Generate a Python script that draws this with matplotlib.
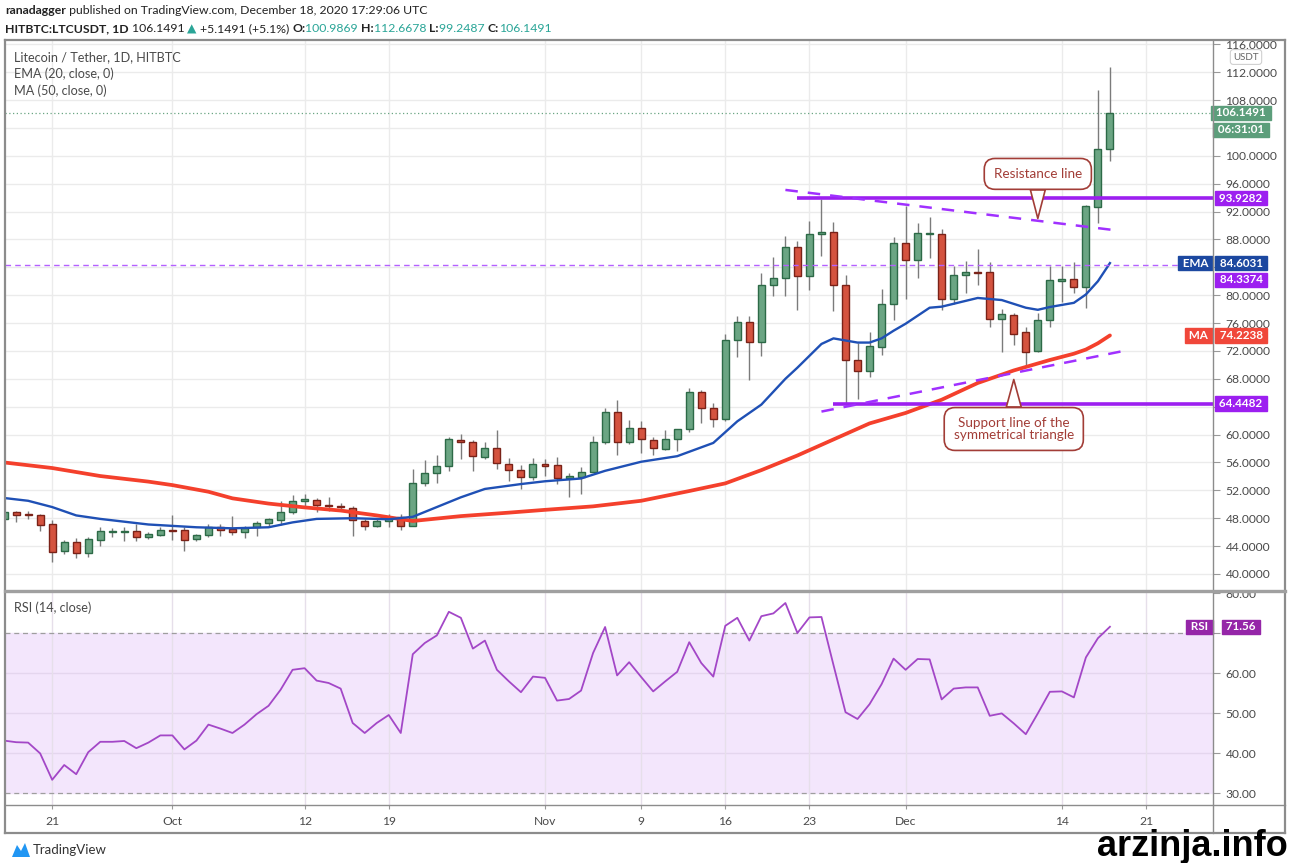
import matplotlib
matplotlib.use("Agg")
import matplotlib.pyplot as plt
import matplotlib.dates as mdates
from matplotlib.transforms import blended_transform_factory
from matplotlib.lines import Line2D
from matplotlib.patches import Rectangle, Polygon
import numpy as np
import pandas as pd

plt.rcParams['font.family'] = ['Lato', 'DejaVu Sans']

W, H = 1289, 863

# daily candles, Sep 17 .. Dec 18 2020
dates = pd.date_range("2020-09-17", "2020-12-18", freq="D")
opens = [47.9, 48.95, 48.6, 48.45, 47.1, 43.25, 44.55, 42.95, 44.9, 46.05, 46.05, 46.1, 45.3, 45.65,
         46.3, 46.3, 44.95, 45.65, 46.7, 46.45, 46.05, 46.7, 47.25, 47.8, 48.85, 50.5, 50.6, 49.9, 49.75, 49.45,
         47.65, 46.95, 47.6, 48.15, 46.95, 52.98, 54.43, 55.45, 59.2, 58.95, 56.85, 58.05, 55.8, 54.9, 53.95,
         55.75, 55.6, 53.75, 53.95, 54.7, 59.0, 63.3, 58.9, 61.0, 59.25, 57.95, 59.3, 60.75, 66.05, 63.85,
         62.3, 73.6, 76.15, 73.3, 81.4, 82.4, 86.9, 82.7, 88.8, 89.1, 81.4, 70.75, 69.1, 72.5, 78.75,
         87.5, 85.0, 88.8, 88.8, 79.5, 82.95, 83.35, 83.3, 76.6, 77.15, 74.7, 71.95, 76.5, 82.1, 82.35,
         81.15, 92.65, 100.9869]
highs = [49.1, 49.1, 49.1, 48.6, 47.75, 44.9, 45.2, 45.25, 46.7, 46.6, 46.7, 47.2, 46.0, 46.7,
         48.5, 46.8, 45.75, 47.2, 47.2, 48.3, 46.9, 47.55, 48.1, 50.5, 51.35, 51.5, 50.9, 51.1, 50.15, 49.7,
         47.9, 47.9, 48.6, 48.6, 55.05, 56.4, 57.1, 59.65, 60.15, 59.2, 59.0, 60.6, 56.6, 55.6, 56.6,
         56.5, 56.75, 54.5, 55.3, 59.8, 63.85, 64.95, 62.05, 61.95, 59.65, 60.6, 60.85, 66.65, 66.4, 64.5,
         74.5, 76.95, 77.05, 83.2, 85.45, 88.45, 87.75, 90.7, 93.8, 90.5, 82.95, 73.15, 74.7, 80.95, 88.3,
         92.85, 90.35, 91.2, 89.5, 84.15, 84.9, 86.6, 84.7, 78.0, 77.45, 75.5, 77.45, 84.15, 84.15, 84.8,
         93.0, 109.5, 112.6678]
lows = [47.7, 47.5, 47.9, 46.2, 41.7, 42.9, 42.25, 42.5, 44.0, 45.25, 44.7, 44.8, 45.0, 45.4,
        44.9, 43.25, 44.8, 45.35, 45.5, 45.65, 45.1, 45.5, 46.7, 47.0, 48.6, 49.4, 48.95, 49.1, 49.2, 45.5,
        46.3, 46.7, 46.7, 46.3, 46.9, 52.65, 53.1, 54.8, 56.5, 54.8, 56.5, 55.05, 53.4, 52.2, 53.5,
        54.1, 52.9, 51.1, 51.45, 54.6, 58.7, 57.1, 58.6, 57.4, 57.0, 57.8, 57.7, 60.4, 61.7, 61.1,
        61.9, 71.2, 67.9, 71.3, 79.85, 79.9, 77.85, 80.8, 85.6, 77.7, 64.3, 65.1, 68.2, 71.4, 76.5,
        79.5, 82.4, 85.35, 77.85, 78.8, 80.3, 81.5, 75.45, 71.85, 72.8, 69.8, 71.85, 75.45, 79.0, 80.3,
        78.2, 90.4, 99.2487]
closes = [48.85, 48.5, 48.5, 47.0, 43.1, 44.55, 42.95, 45.0, 46.1, 46.15, 46.1, 45.25, 45.7, 46.3,
          46.2, 44.9, 45.6, 46.7, 46.35, 46.05, 46.55, 47.25, 47.9, 48.95, 50.5, 50.7, 49.95, 49.7, 49.55, 47.7,
          46.95, 47.55, 48.2, 46.95, 53.05, 54.43, 55.45, 59.3, 58.95, 56.9, 58.05, 55.9, 54.9, 53.95, 55.75,
          55.55, 53.75, 54.0, 54.7, 59.0, 63.3, 58.9, 61.0, 59.3, 58.05, 59.3, 60.75, 66.05, 63.85, 62.3,
          73.6, 76.15, 73.3, 81.4, 82.4, 86.9, 82.7, 88.8, 89.1, 81.4, 70.75, 69.1, 72.7, 78.75, 87.5,
          85.0, 88.95, 88.9, 79.5, 82.95, 83.3, 83.25, 76.6, 77.3, 74.5, 71.85, 76.5, 82.15, 82.35, 81.15,
          92.75, 100.9869, 106.1491]

rsi = [43.1, 42.7, 42.6, 39.9, 33.3, 37.0, 34.7, 40.2, 42.8, 42.8, 43.0, 41.2, 42.6, 44.4,
       44.4, 40.9, 43.1, 47.1, 46.1, 45.0, 47.1, 49.7, 51.8, 55.8, 60.8, 61.2, 58.1, 57.5, 56.1, 47.5,
       45.0, 47.5, 49.5, 45.0, 64.7, 67.5, 69.4, 75.3, 73.8, 66.1, 68.1, 60.8, 57.9, 55.2, 59.1,
       58.8, 53.1, 53.5, 55.6, 65.0, 71.5, 59.4, 62.7, 59.0, 55.4, 57.9, 60.3, 67.7, 62.5, 59.1,
       71.8, 73.8, 68.1, 74.2, 74.9, 77.5, 70.0, 73.9, 74.0, 62.0, 50.2, 48.5, 52.2, 57.2, 63.6,
       60.8, 63.5, 63.4, 53.4, 56.1, 56.4, 56.4, 49.3, 49.9, 47.4, 44.7, 49.9, 55.3, 55.4, 53.9,
       63.9, 68.7, 71.56]

ema_dates = ["2020-09-17", "2020-09-19", "2020-09-21", "2020-09-23", "2020-09-25", "2020-09-29",
             "2020-10-03", "2020-10-06", "2020-10-09", "2020-10-11", "2020-10-13", "2020-10-16",
             "2020-10-19", "2020-10-21", "2020-10-23", "2020-10-25", "2020-10-27", "2020-10-30",
             "2020-11-01", "2020-11-04", "2020-11-06", "2020-11-09", "2020-11-12", "2020-11-15",
             "2020-11-17", "2020-11-19", "2020-11-21", "2020-11-22", "2020-11-24", "2020-11-25",
             "2020-11-27", "2020-11-28", "2020-11-29", "2020-11-30", "2020-12-01", "2020-12-03",
             "2020-12-04", "2020-12-07", "2020-12-09", "2020-12-11", "2020-12-12", "2020-12-13",
             "2020-12-15", "2020-12-16", "2020-12-17", "2020-12-18"]
ema_vals = [50.9, 50.5, 49.6, 48.4, 47.9, 47.1, 46.7, 46.55, 46.7, 47.4, 47.9, 48.0,
            47.85, 48.2, 49.6, 51.0, 52.2, 52.9, 53.3, 53.7, 54.8, 56.1, 56.9, 58.8,
            61.9, 64.3, 68.0, 69.6, 73.0, 73.8, 73.2, 73.2, 73.8, 74.9, 75.9, 78.2,
            78.35, 79.6, 79.3, 78.2, 77.9, 78.3, 78.9, 80.1, 82.0, 84.6031]

ma_dates = ["2020-09-17", "2020-09-21", "2020-09-25", "2020-09-29", "2020-10-01", "2020-10-04",
            "2020-10-06", "2020-10-09", "2020-10-12", "2020-10-15", "2020-10-18", "2020-10-21",
            "2020-10-25", "2020-10-29", "2020-11-01", "2020-11-05", "2020-11-09", "2020-11-13",
            "2020-11-16", "2020-11-19", "2020-11-22", "2020-11-25", "2020-11-28", "2020-12-01",
            "2020-12-04", "2020-12-07", "2020-12-10", "2020-12-13", "2020-12-15", "2020-12-16",
            "2020-12-17", "2020-12-18"]
ma_vals = [56.0, 55.2, 54.05, 53.25, 52.75, 51.8, 50.85, 50.1, 49.55, 49.1, 48.4, 47.6,
           48.3, 48.8, 49.2, 49.7, 50.5, 51.9, 53.0, 54.9, 57.0, 59.3, 61.6, 63.1,
           65.0, 67.4, 69.2, 70.7, 71.6, 72.2, 73.1, 74.2238]

# drawn levels
resistance = 93.9282
support = 64.4482
level_mid = 84.3374
upper_trend_dates = ["2020-11-21 00:00", "2020-12-18 18:00"]
upper_trend_vals = [95.1, 89.25]
lower_trend_dates = ["2020-11-24 00:00", "2020-12-19 14:00"]
lower_trend_vals = [63.3, 72.15]

tick_dates = ["2020-09-21", "2020-10-01", "2020-10-12", "2020-10-19", "2020-11-01", "2020-11-09",
              "2020-11-16", "2020-11-23", "2020-12-01", "2020-12-14", "2020-12-21"]
tick_labels = ["21", "Oct", "12", "19", "Nov", "9", "16", "23", "Dec", "14", "21"]

GREEN, GREEN_E = '#6ba583', '#2d6a47'
RED, RED_E = '#d4533f', '#7a2218'
PURPLE = '#9c1ff0'
GRAY_T = '#4a4a4a'


def fx(px):
    return px / W


def fy(py):
    return 1 - py / H


def dn(s):
    return mdates.date2num(pd.Timestamp(s))


def dns(lst):
    return np.array([dn(s) for s in lst])


fig = plt.figure(figsize=(W / 100, H / 100), dpi=100)
ax = fig.add_axes([fx(5), fy(590), (1213 - 5) / W, (590 - 40) / H])
ar = fig.add_axes([fx(5), fy(805), (1213 - 5) / W, (805 - 593) / H], sharex=ax)

x0 = dn("2020-11-01") - 540 / 12.02
ax.set_xlim(x0, x0 + 1208 / 12.02)
ax.set_ylim(37.70, 116.61)
ar.set_ylim(27.0, 80.0)

xd = mdates.date2num(dates)
o = np.array(opens)
c = np.array(closes)
up = c >= o
lo = np.minimum(o, c)
hgt = np.maximum(np.abs(c - o), 0.12)

ax.vlines(xd, lows, highs, color='#7b7b7b', lw=1, zorder=2)
ax.bar(xd[up], hgt[up], bottom=lo[up], width=0.58, color=GREEN, edgecolor=GREEN_E, lw=1, zorder=3)
ax.bar(xd[~up], hgt[~up], bottom=lo[~up], width=0.58, color=RED, edgecolor=RED_E, lw=1, zorder=3)

ax.plot(dns(ma_dates), ma_vals, color='#f4402c', lw=2.7, zorder=4, solid_capstyle='round')
ax.plot(dns(ema_dates), ema_vals, color='#1f50b5', lw=1.7, zorder=5)

xr = ax.get_xlim()[1]
ax.hlines(resistance, dn("2020-11-22"), xr, color=PURPLE, lw=2.6, zorder=6)
ax.hlines(support, dn("2020-11-25"), xr, color=PURPLE, lw=2.6, zorder=6)
ax.axhline(level_mid, color='#b460ff', lw=1, dashes=(4, 3), zorder=6)
ax.plot(dns(upper_trend_dates), upper_trend_vals, color='#a030ff', lw=1.8, dashes=(5, 4), zorder=6)
ax.plot(dns(lower_trend_dates), lower_trend_vals, color='#a030ff', lw=1.8, dashes=(5, 4), zorder=6)
ax.axhline(closes[-1], color='#6aa583', lw=0.9, ls=(0, (1, 2)), zorder=1)

# axes styling
for a in (ax, ar):
    for s in a.spines.values():
        s.set_visible(False)
    a.yaxis.tick_right()
    a.set_axisbelow(True)
    a.grid(True, color='#ebebeb', lw=1)

ar.set_xticks(dns(tick_dates))
ar.set_xticklabels(tick_labels)
ax.tick_params(axis='x', bottom=False, labelbottom=False)
ar.tick_params(axis='x', length=3, color='#9a9a9a', pad=5, labelsize=8.7, labelcolor=GRAY_T)

pt = np.arange(40, 117, 4)
ax.set_yticks(pt)
ax.set_yticklabels(['' if v in (64, 84, 104) else f'{v:.4f}' for v in pt])
ax.tick_params(axis='y', direction='out', length=5, width=0.8, color='#9a9a9a', pad=4,
               labelsize=8.7, labelcolor=GRAY_T)

rt = [30, 40, 50, 60, 70, 80]
ar.set_yticks(rt)
ar.set_yticklabels(['' if v == 70 else f'{v:.2f}' for v in rt])
ar.tick_params(axis='y', direction='out', length=5, width=0.8, color='#9a9a9a', pad=4,
               labelsize=8.7, labelcolor=GRAY_T)

# RSI pane
ar.axhspan(30, 70, color='#f3e6fc', zorder=0)
ar.grid(False)
for v in (40, 50, 60):
    ar.axhline(v, color='#e4d6ee', lw=1, zorder=0.5)
for t in ar.get_xticks():
    ar.axvline(t, color='#e6dfea', lw=1, zorder=0.5)
ar.axhline(70, color='#9e9e9e', lw=0.9, dashes=(4, 3))
ar.axhline(30, color='#9e9e9e', lw=0.9, dashes=(4, 3))
ar.plot(xd, rsi, color='#a347c7', lw=1.3, zorder=3)


def tag_value(axis, y, text, fc, dy=0):
    tr = blended_transform_factory(axis.transAxes, axis.transData)
    axis.annotate(' ' + text + ' ', xy=(1, y), xycoords=tr, xytext=(28, dy), textcoords='offset pixels',
                  ha='center', va='center', fontsize=8.4, color='white', fontweight='bold',
                  bbox=dict(boxstyle='square,pad=0.15', fc=fc, ec=fc), annotation_clip=False, zorder=12)


def tag_name(axis, y, text, fc):
    tr = blended_transform_factory(axis.transAxes, axis.transData)
    axis.annotate(' ' + text + ' ', xy=(1, y), xycoords=tr, xytext=(-2, 0), textcoords='offset pixels',
                  ha='right', va='center', fontsize=8.4, color='white', fontweight='bold',
                  bbox=dict(boxstyle='square,pad=0.15', fc=fc, ec=fc), annotation_clip=False, zorder=12)


tag_value(ax, closes[-1], f'{closes[-1]:.4f}', '#5c9e7b')
tag_value(ax, closes[-1], '06:31:01', '#5c9e7b', dy=-17)
tag_value(ax, resistance, f'{resistance:.4f}', PURPLE)
tag_value(ax, ema_vals[-1], f'{ema_vals[-1]:.4f}', '#1c48a0')
tag_name(ax, ema_vals[-1], 'EMA', '#1c48a0')
tag_value(ax, level_mid, f'{level_mid:.4f}', PURPLE, dy=-15)
tag_value(ax, ma_vals[-1], f'{ma_vals[-1]:.4f}', '#f0473a')
tag_name(ax, ma_vals[-1], 'MA', '#f0473a')
tag_value(ax, support, f'{support:.4f}', PURPLE)
tag_value(ar, rsi[-1], f'{rsi[-1]:.2f}', '#9526a8', dy=0)
tag_name(ar, rsi[-1], 'RSI', '#9526a8')

# callouts
CO = '#a23d37'
ax.annotate("Resistance line", xy=(dn("2020-12-12"), 91.0), xytext=(dn("2020-12-12"), 97.4),
            ha='center', va='center', fontsize=9.7, color=CO, zorder=13,
            bbox=dict(boxstyle='round,pad=0.7,rounding_size=0.8', fc='white', ec=CO, lw=1.2),
            arrowprops=dict(arrowstyle='wedge,tail_width=1.1,shrink_factor=0.5', fc='white', ec=CO,
                            lw=1.2, shrinkA=0, shrinkB=0))
ax.annotate("Support line of the\nsymmetrical triangle", xy=(dn("2020-12-10"), 67.9),
            xytext=(dn("2020-12-10"), 60.8), ha='center', va='center', fontsize=9.7, color=CO,
            linespacing=1.0, zorder=13,
            bbox=dict(boxstyle='round,pad=0.7,rounding_size=0.8', fc='white', ec=CO, lw=1.2),
            arrowprops=dict(arrowstyle='wedge,tail_width=1.1,shrink_factor=0.5', fc='white', ec=CO,
                            lw=1.2, shrinkA=0, shrinkB=0))

# pane legends
fig.text(fx(14), fy(57), "Litecoin / Tether, 1D, HITBTC", fontsize=9.1, color=GRAY_T, va='center')
fig.text(fx(14), fy(74), "EMA (20, close, 0)", fontsize=9.1, color=GRAY_T, va='center')
fig.text(fx(14), fy(91), "MA (50, close, 0)", fontsize=9.1, color=GRAY_T, va='center')
fig.text(fx(14), fy(608), "RSI (14, close)", fontsize=9.1, color=GRAY_T, va='center')
fig.text(fx(1246), fy(57), "USDT", ha='center', va='center', fontsize=7, color='#666666', zorder=21,
         bbox=dict(boxstyle='round,pad=0.3', fc='white', ec='#d0d0d0', lw=0.8))

# header
renderer = fig.canvas.get_renderer()


def line_pieces(y_px, pieces, fs=8.8):
    x = 5
    for s, col, wt in pieces:
        t = fig.text(fx(x), fy(y_px), s, color=col, fontweight=wt, fontsize=fs, va='center', ha='left')
        x += t.get_window_extent(renderer).width


TEAL = '#2aa597'
line_pieces(10, [("ranadagger", '#222222', 'bold'),
                 (" published on TradingView.com, December 18, 2020 17:29:06 UTC", '#222222', 'normal')])
line_pieces(29, [("HITBTC:LTCUSDT, 1D ", '#222222', 'bold'), ("106.1491 ", '#222222', 'normal'),
                 ("▲ ", TEAL, 'normal'), ("+5.1491 (+5.1%) ", '#222222', 'normal'),
                 ("O:", '#222222', 'bold'), ("100.9869 ", TEAL, 'normal'),
                 ("H:", '#222222', 'bold'), ("112.6678 ", TEAL, 'normal'),
                 ("L:", '#222222', 'bold'), ("99.2487 ", TEAL, 'normal'),
                 ("C:", '#222222', 'bold'), ("106.1491", TEAL, 'normal')])

# frame
fig.add_artist(Rectangle((fx(1214), fy(40)), (1289 - 1214) / W, 40 / H, transform=fig.transFigure,
                         fc='white', ec='none', zorder=15))
fig.add_artist(Rectangle((fx(1214), fy(592)), (1285 - 1214) / W, 6 / H, transform=fig.transFigure,
                         fc='white', ec='none', zorder=15))


def fline(xa, ya, xb, yb, col='#9a9a9a', lw=1.2):
    fig.add_artist(Line2D([fx(xa), fx(xb)], [fy(ya), fy(yb)], transform=fig.transFigure,
                          color=col, lw=lw, zorder=20))


fline(5, 40, 1285, 40, '#8c8c8c', 1.6)
fline(5, 833, 1285, 833, '#8c8c8c', 1.6)
fline(5, 40, 5, 833, '#8c8c8c', 1.6)
fline(1285, 40, 1285, 833, '#8c8c8c', 1.6)
fline(1213, 40, 1213, 833, '#8c8c8c', 1.0)
fline(5, 591, 1285, 591, '#a0a0a0', 2.4)
fline(5, 805, 1285, 805, '#8c8c8c', 1.0)

# footer
fig.add_artist(Polygon([[fx(12), fy(857)], [fx(17), fy(845)], [fx(21), fy(851)], [fx(25), fy(843)],
                        [fx(30), fy(857)]], closed=True, transform=fig.transFigure, fc='#2196f3',
                       ec='none'))
fig.text(fx(33), fy(850), "TradingView", fontsize=9.5, color='#333333', va='center')
fig.text(fx(1288), fy(846), "arzinja.info", ha='right', va='center', fontsize=26, fontweight='bold',
         family='Liberation Sans', color='black', zorder=25)

fig.savefig("out.png", dpi=100)
